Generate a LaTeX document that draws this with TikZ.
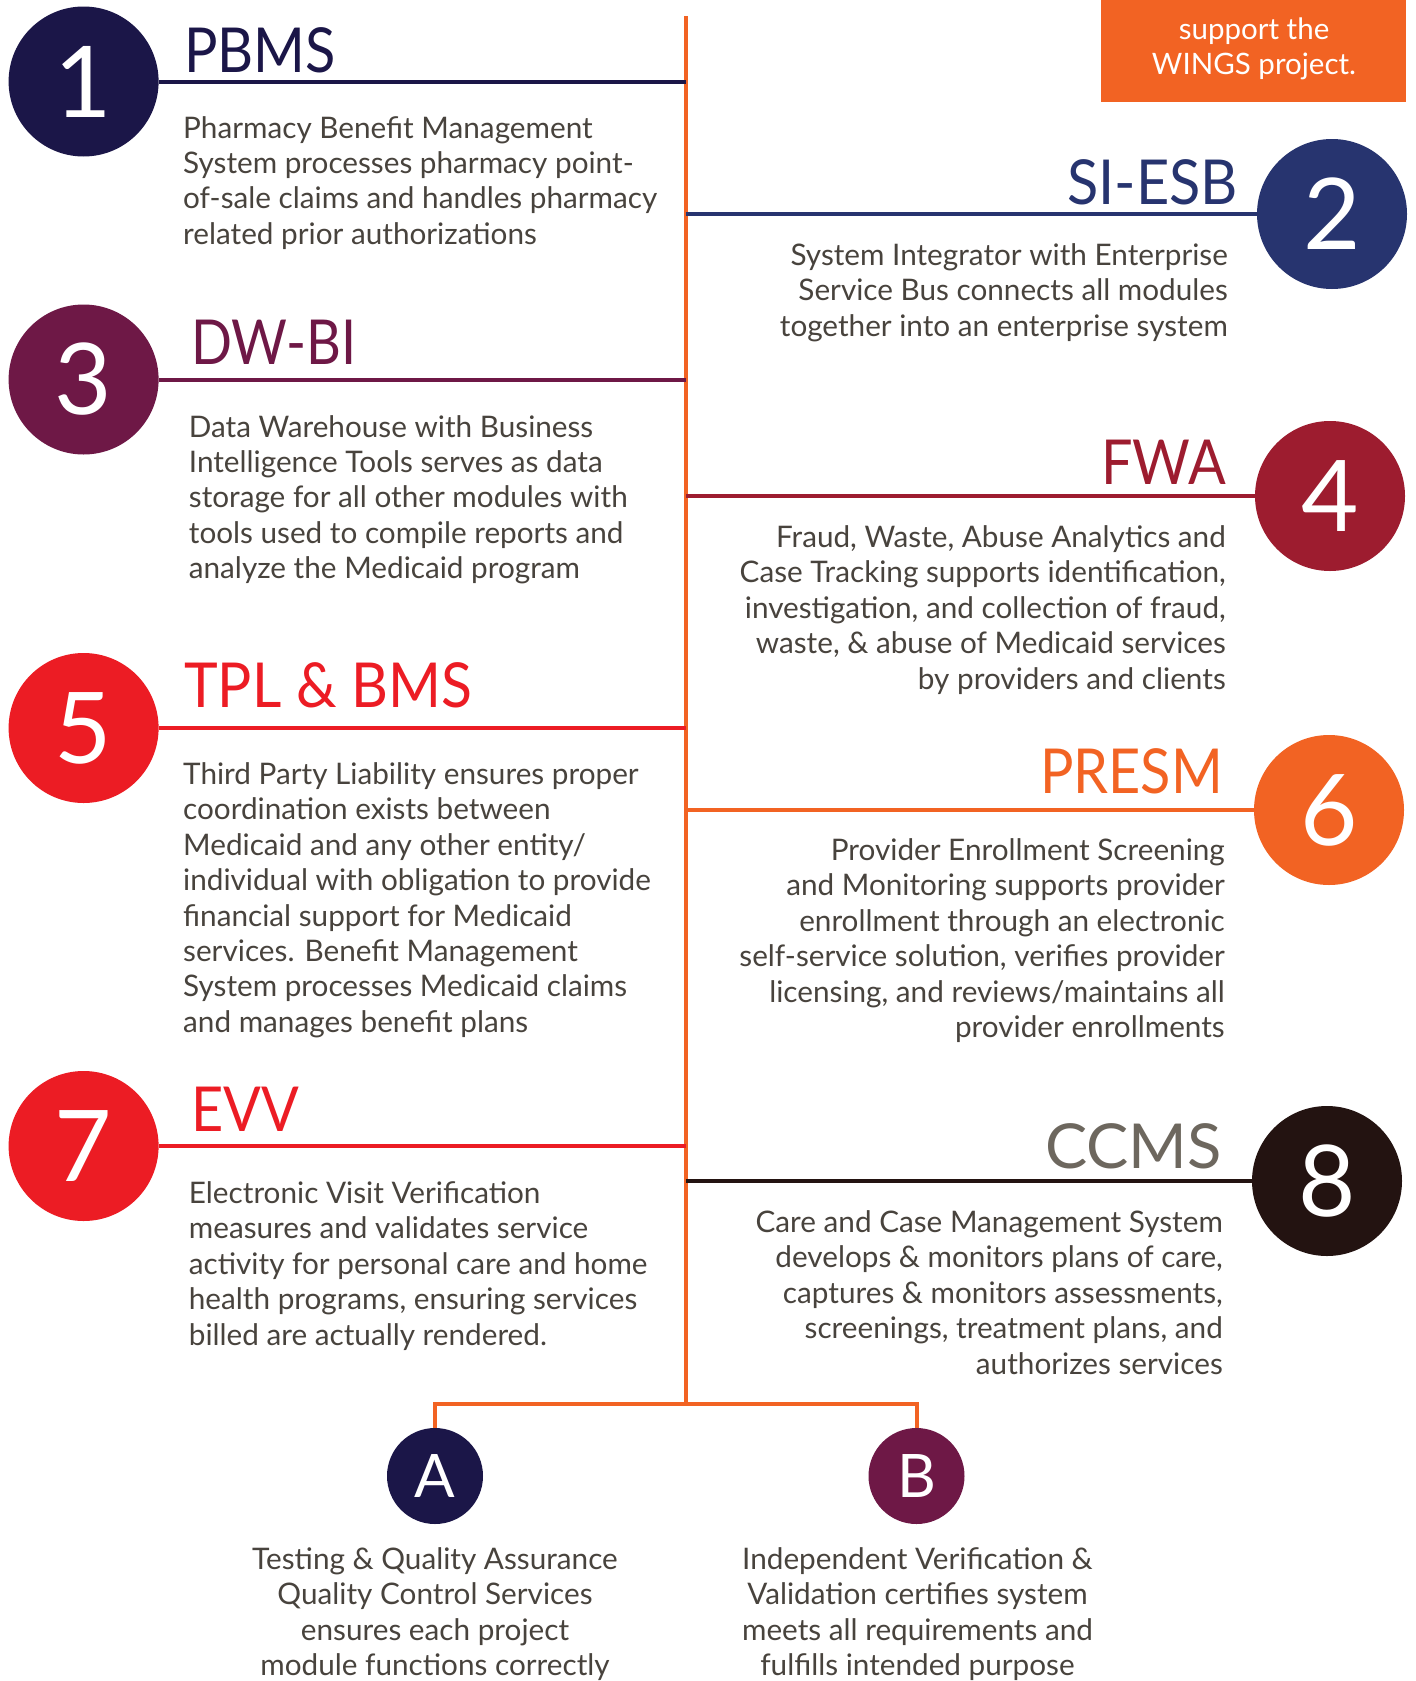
\documentclass[tikz,border=0pt]{standalone}
\usepackage{fontspec}
\setmainfont{Lato}
\definecolor{cnavy}{HTML}{1B1648}
\definecolor{cblue}{HTML}{27346F}
\definecolor{cplum}{HTML}{6E1846}
\definecolor{ccrim}{HTML}{9D1C2F}
\definecolor{cred}{HTML}{EC1C24}
\definecolor{corange}{HTML}{F26323}
\definecolor{cdark}{HTML}{231311}
\definecolor{cgray}{HTML}{6D675E}
\definecolor{ctext}{HTML}{48433D}
\begin{document}
\begin{tikzpicture}[x=1pt,y=-1pt,
 num/.style={circle, fill=#1, minimum size=150pt, inner sep=0pt, text=white, font=\fontsize{99}{99}\selectfont},
 smallnum/.style={circle, fill=#1, minimum size=96pt, inner sep=0pt, text=white, font=\fontsize{60}{60}\selectfont},
 title/.style={text=#1, inner sep=0pt, font=\fontsize{62}{62}\selectfont},
 desc/.style={text=ctext, inner sep=0pt, font=\fontsize{29.7}{35.4}\selectfont},
 hline/.style={draw=#1, line width=4pt},
 spine/.style={draw=corange, line width=4pt}]
\useasboundingbox (0,0) rectangle (1416,1681);
\fill[white] (0,0) rectangle (1416,1681);

% top-right box
\node[fill=corange, minimum width=305pt, minimum height=102pt, inner sep=0pt, anchor=north west] (box) at (1101,0) {};
\node[text=white, inner sep=0pt, anchor=north, align=center, font=\fontsize{29.5}{35.4}\selectfont] (boxtxt) at (1254,14.5) {\strut support the\\WINGS project.};

% spine
\coordinate (top) at (686,16);
\coordinate (bot) at (686,1404);
\draw[spine] (top) -- (bot);

% circles
\node[num=cnavy] (c1) at (83.6,81.5) {1};
\node[num=cblue] (c2) at (1332,214) {2};
\node[num=cplum] (c3) at (83.6,379.5) {3};
\node[num=ccrim] (c4) at (1330,496) {4};
\node[num=cred] (c5) at (83.6,728) {5};
\node[num=corange] (c6) at (1329,810) {6};
\node[num=cred] (c7) at (83.6,1146) {7};
\node[num=cdark] (c8) at (1327,1181) {8};

% spine junctions
\coordinate (s1) at (686,81.5);
\coordinate (s2) at (686,214);
\coordinate (s3) at (686,379.5);
\coordinate (s4) at (686,496);
\coordinate (s5) at (686,728);
\coordinate (s6) at (686,810);
\coordinate (s7) at (686,1146);
\coordinate (s8) at (686,1181);

\draw[hline=cnavy] (c1.east) -- (s1);
\draw[hline=cblue] (c2.west) -- (s2);
\draw[hline=cplum] (c3.east) -- (s3);
\draw[hline=ccrim] (c4.west) -- (s4);
\draw[hline=cred] (c5.east) -- (s5);
\draw[hline=corange] (c6.west) -- (s6);
\draw[hline=cred] (c7.east) -- (s7);
\draw[hline=cdark] (c8.west) -- (s8);

% titles
\node[title=cnavy, anchor=base west] (t1) at (184,72) {\scalebox{0.9}[1]{PBMS}};
\node[title=cblue, anchor=base east] (t2) at (1238,204) {\scalebox{0.93}[1]{SI-ESB}};
\node[title=cplum, anchor=base west] (t3) at (191,364.5) {\scalebox{0.87}[1]{DW-BI}};
\node[title=ccrim, anchor=base east] (t4) at (1226,484.5) {\scalebox{0.9}[1]{FWA}};
\node[title=cred, anchor=base west] (t5) at (184,707.5) {\scalebox{0.92}[1]{TPL \& BMS}};
\node[title=corange, anchor=base east] (t6) at (1223,793) {\scalebox{0.9}[1]{PRESM}};
\node[title=cred, anchor=base west] (t7) at (191,1131) {\scalebox{0.9}[1]{EVV}};
\node[title=cgray, anchor=base east] (t8) at (1222,1168) {\scalebox{1.02}[1]{CCMS}};

% descriptions
\node[desc, anchor=north west, align=left] (d1) at (183,113.2) {\strut Pharmacy Benefit Management\\System processes pharmacy point-\\of-sale claims and handles pharmacy\\related prior authorizations};
\node[desc, anchor=north east, align=right] (d2) at (1228,240.5) {\strut System Integrator with Enterprise\\Service Bus connects all modules\\together into an enterprise system};
\node[desc, anchor=north west, align=left] (d3) at (188.7,412.2) {\strut Data Warehouse with Business\\Intelligence Tools serves as data\\storage for all other modules with\\tools used to compile reports and\\analyze the Medicaid program};
\node[desc, anchor=north east, align=right] (d4) at (1226,522.5) {\strut Fraud, Waste, Abuse Analytics and\\Case Tracking supports identification,\\investigation, and collection of fraud,\\waste, \& abuse of Medicaid services\\by providers and clients};
\node[desc, anchor=north west, align=left] (d5) at (183,759.5) {\strut Third Party Liability ensures proper\\coordination exists between\\Medicaid and any other entity/\\individual with obligation to provide\\financial support for Medicaid\\services. Benefit Management\\System processes Medicaid claims\\and manages benefit plans};
\node[desc, anchor=north east, align=right] (d6) at (1225,835.5) {\strut Provider Enrollment Screening\\and Monitoring supports provider\\enrollment through an electronic\\self-service solution, verifies provider\\licensing, and reviews/maintains all\\provider enrollments};
\node[desc, anchor=north west, align=left] (d7) at (188.7,1178.5) {\strut Electronic Visit Verification\\measures and validates service\\activity for personal care and home\\health programs, ensuring services\\billed are actually rendered.};
\node[desc, anchor=north east, align=right] (d8) at (1223,1207.5) {\strut Care and Case Management System\\develops \& monitors plans of care,\\captures \& monitors assessments,\\screenings, treatment plans, and\\authorizes services};

% bottom branch
\node[smallnum=cnavy] (ca) at (435,1476) {A};
\node[smallnum=cplum] (cb) at (916.5,1476) {B};
\coordinate (ja) at (435,1404);
\coordinate (jb) at (916.5,1404);
\draw[spine] (ca.north) -- (ja) -- (jb) -- (cb.north);
\node[desc, anchor=north, align=center] (da) at (435,1544.2) {\strut Testing \& Quality Assurance\\Quality Control Services\\ensures each project\\module functions correctly};
\node[desc, anchor=north, align=center] (db) at (917.5,1544.2) {\strut Independent Verification \&\\Validation certifies system\\meets all requirements and\\fulfills intended purpose};
\end{tikzpicture}
\end{document}
